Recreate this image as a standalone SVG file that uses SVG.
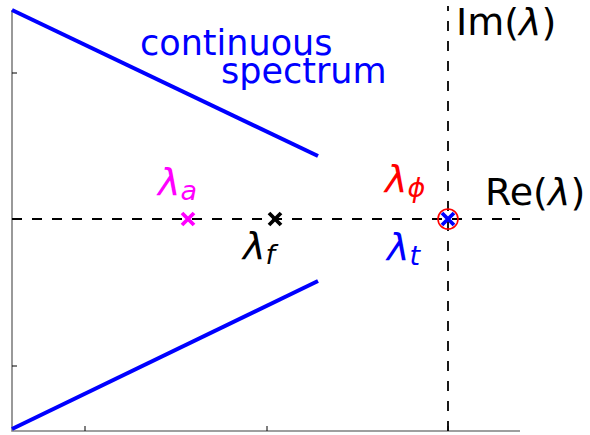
<svg xmlns="http://www.w3.org/2000/svg" width="590" height="435" viewBox="0 0 590 435">
<style>
.ax{stroke:#808080;stroke-width:1.6;fill:none}
.tk{stroke:#000;stroke-width:1;fill:none}
.dash{stroke:#000;stroke-width:1.8;stroke-dasharray:10 10;fill:none}
.spec{stroke:#0000ff;stroke-width:4;fill:none;stroke-linecap:butt}
.mk{stroke-width:3.8;fill:none}
text{font-family:"DejaVu Sans","Liberation Sans",sans-serif}
.lab{font-size:38px}
.lam{font-style:italic}
.sub{font-size:27px;font-style:italic}
</style>
<rect width="590" height="435" fill="#fff"/>
<g id="axes">
<polyline class="ax" points="12,10 12,431 520,431"/>
<line class="tk" x1="12" y1="73" x2="17" y2="73"/>
<line class="tk" x1="12" y1="366" x2="17" y2="366"/>
<line class="tk" x1="85" y1="431" x2="85" y2="426"/>
<line class="tk" x1="267" y1="431" x2="267" y2="426"/>
<line class="tk" x1="448" y1="431" x2="448" y2="426"/>
</g>
<g id="connectors">
<line class="dash" x1="12" y1="219" x2="520" y2="219"/>
<line class="dash" x1="448" y1="431" x2="448" y2="6"/>
<line class="spec" x1="12" y1="10" x2="318" y2="156"/>
<line class="spec" x1="12" y1="429" x2="318" y2="281"/>
</g>
<g id="spectrum-label" fill="#0000ff">
<text x="140" y="55" style="font-size:35px">continuous</text>
<text x="221" y="83" style="font-size:35px">spectrum</text>
</g>
<g id="lambda-a">
<path class="mk" d="M182,213 L194,225 M194,213 L182,225" stroke="#ff00ff"/>
<text x="158" y="195" fill="#ff00ff" class="lab"><tspan class="lam">λ</tspan><tspan class="sub" dy="5">a</tspan></text>
</g>
<g id="lambda-f">
<path class="mk" d="M269,213 L281,225 M281,213 L269,225" stroke="#000"/>
<text x="243" y="259" fill="#000" class="lab"><tspan class="lam">λ</tspan><tspan class="sub" dy="5">f</tspan></text>
</g>
<g id="lambda-t">
<circle cx="448" cy="219" r="10" fill="none" stroke="#ff0000" stroke-width="1.6"/>
<path class="mk" d="M442,213 L454,225 M454,213 L442,225" stroke="#0000ff"/>
<text x="387" y="260" fill="#0000ff" class="lab"><tspan class="lam">λ</tspan><tspan class="sub" dy="5">t</tspan></text>
<text x="385" y="192" fill="#ff0000" class="lab"><tspan class="lam">λ</tspan><tspan class="sub" dy="5">ϕ</tspan></text>
</g>
<g id="re-label"><text x="485" y="205" class="lab">Re(<tspan class="lam">λ</tspan>)</text></g>
<g id="im-label"><text x="456" y="35" class="lab">Im(<tspan class="lam">λ</tspan>)</text></g>
</svg>
